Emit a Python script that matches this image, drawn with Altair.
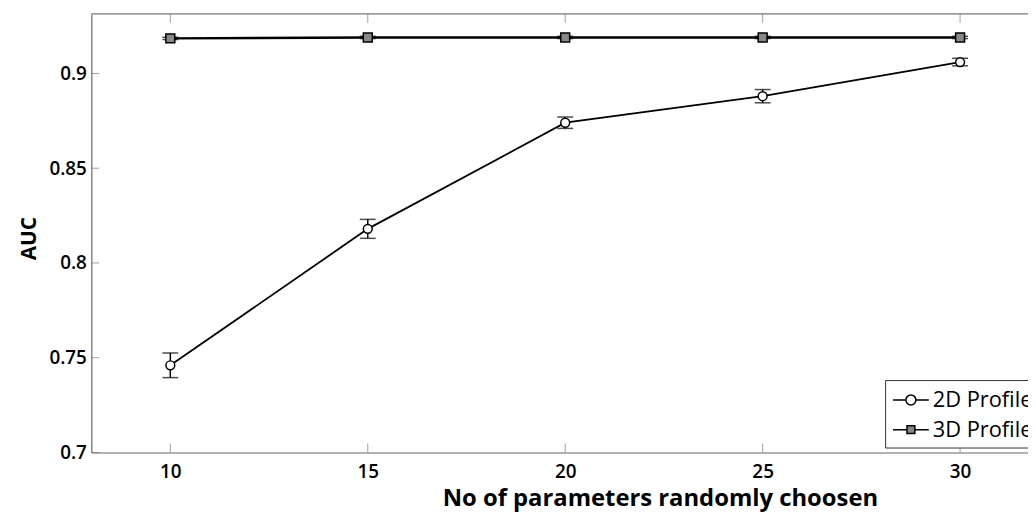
import altair as alt
import pandas as pd

# ---- data ----
params = [10, 15, 20, 25, 30]
auc_2d = [0.746, 0.818, 0.874, 0.888, 0.906]
err_2d = [0.0065, 0.005, 0.003, 0.0035, 0.002]
auc_3d = [0.9185, 0.919, 0.919, 0.919, 0.919]
err_3d = [0.0006, 0.0006, 0.0006, 0.0006, 0.0006]
series_names = ["2D Profile", "3D Profile"]
x_ticks = [10, 15, 20, 25, 30]
y_ticks = [0.7, 0.75, 0.8, 0.85, 0.9]
x_domain = [8, 31.72]
y_domain = [0.7, 0.9314]

rows = []
for n, a, e in zip(params, auc_2d, err_2d):
    rows.append({"n": n, "auc": a, "lo": a - e, "hi": a + e, "series": series_names[0]})
for n, a, e in zip(params, auc_3d, err_3d):
    rows.append({"n": n, "auc": a, "lo": a - e, "hi": a + e, "series": series_names[1]})
df = pd.DataFrame(rows)
df2 = df[df.series == series_names[0]]
df3 = df[df.series == series_names[1]]

xtick_df = pd.DataFrame({"n": x_ticks, "auc": [y_domain[0]] * len(x_ticks)})
xtick_top_df = pd.DataFrame({"n": x_ticks, "auc": [y_domain[1]] * len(x_ticks)})
ytick_df = pd.DataFrame({"n": [x_domain[0]] * len(y_ticks), "auc": y_ticks})
top_df = pd.DataFrame({"auc": [y_domain[1]]})

FONT = "Open Sans"
xscale = alt.Scale(domain=x_domain, nice=False, zero=False)
yscale = alt.Scale(domain=y_domain, nice=False, zero=False)
xaxis = alt.Axis(
    values=x_ticks, ticks=False, grid=False, title="No of parameters randomly choosen",
    labelPadding=10, titleX=573, titleY=53, titleBaseline="alphabetic", titleAnchor="start",
    titleAlign="center", titleFontSize=24,
)
yaxis = alt.Axis(
    values=y_ticks, ticks=False, grid=False, title="AUC", format=".2~f",
    labelPadding=5, titleX=-62, titleY=226, titleBaseline="middle", titleAlign="center",
    titleAngle=270, titleFontSize=21,
)


def X(f="n"):
    return alt.X(f + ":Q", scale=xscale, axis=xaxis)


def Y(f="auc"):
    return alt.Y(f + ":Q", scale=yscale, axis=yaxis)


path2d = "M-1.5,0L-0.42,0M0.42,0L1.5,0M-0.42,0A0.42,0.42,0,1,1,0.42,0A0.42,0.42,0,1,1,-0.42,0Z"
path3d = "M-1.5,0L-0.33,0M0.33,0L1.5,0M-0.33,-0.33L0.33,-0.33L0.33,0.33L-0.33,0.33Z"

legend = alt.Legend(
    title=None, orient="none", legendX=800, legendY=369,
    strokeColor="#333", fillColor="white", padding=7, rowPadding=6,
    symbolOpacity=1, symbolStrokeWidth=1.5,
    symbolSize=576, symbolOffset=6, labelOffset=9,
    labelFont=FONT, labelFontSize=22, labelFontWeight=500, labelColor="black",
)

top_rule = alt.Chart(top_df).mark_rule(color="#777", strokeWidth=1.2).encode(y=Y())

bottom_ticks = alt.Chart(xtick_df).mark_tick(
    orient="vertical", size=9, yOffset=-4.5, color="#777", thickness=1
).encode(x=X(), y=Y())
top_ticks = alt.Chart(xtick_top_df).mark_tick(
    orient="vertical", size=9, yOffset=4.5, color="#777", thickness=1
).encode(x=X(), y=Y())
left_ticks = alt.Chart(ytick_df).mark_tick(
    orient="horizontal", size=8, xOffset=4, color="#777", thickness=1
).encode(x=X(), y=Y())

line2 = alt.Chart(df2).mark_line(color="black", strokeWidth=1.8).encode(x=X(), y=Y())
line3 = alt.Chart(df3).mark_line(color="black", strokeWidth=2.5).encode(x=X(), y=Y())

err_rule = alt.Chart(df).mark_rule(color="black", strokeWidth=1.5).encode(
    x=X(), y=Y("lo"), y2="hi:Q"
)
cap_lo = alt.Chart(df).mark_tick(orient="horizontal", size=16, color="black", thickness=1.5).encode(
    x=X(), y=Y("lo")
)
cap_hi = alt.Chart(df).mark_tick(orient="horizontal", size=16, color="black", thickness=1.5).encode(
    x=X(), y=Y("hi")
)

pts2 = alt.Chart(df2).mark_point(
    shape="circle", filled=True, fill="white", stroke="black", strokeWidth=1.5, size=80, opacity=1
).encode(x=X(), y=Y())
pts3 = alt.Chart(df3).mark_point(
    shape="square", filled=True, fill="#888888", stroke="black", strokeWidth=1.5, size=81, opacity=1
).encode(x=X(), y=Y())

legend_carrier = alt.Chart(df).mark_point(opacity=0, size=576, filled=True, strokeWidth=1.5).encode(
    x=X(), y=Y(),
    shape=alt.Shape("series:N", scale=alt.Scale(domain=series_names, range=[path2d, path3d]), legend=legend),
    fill=alt.Fill("series:N", scale=alt.Scale(domain=series_names, range=["white", "#888888"]), legend=legend),
    stroke=alt.Stroke("series:N", scale=alt.Scale(domain=series_names, range=["black", "black"]), legend=legend),
)

chart = alt.layer(
    top_rule, bottom_ticks, top_ticks, left_ticks,
    line3, line2, err_rule, cap_lo, cap_hi, pts3, pts2, legend_carrier,
).properties(
    width=944, height=442,
    autosize=alt.AutoSizeParams(type="none"),
    padding={"left": 84, "top": 4, "right": 0, "bottom": 58},
).configure_view(strokeWidth=0).configure_axis(
    domainColor="#666", domainWidth=1.2,
    labelFont=FONT, labelFontSize=19, labelFontWeight=600, labelColor="black",
    titleFont=FONT, titleFontWeight="bold", titleColor="black",
)

chart.save("out.html", embed_options={"renderer": "svg", "actions": False})
